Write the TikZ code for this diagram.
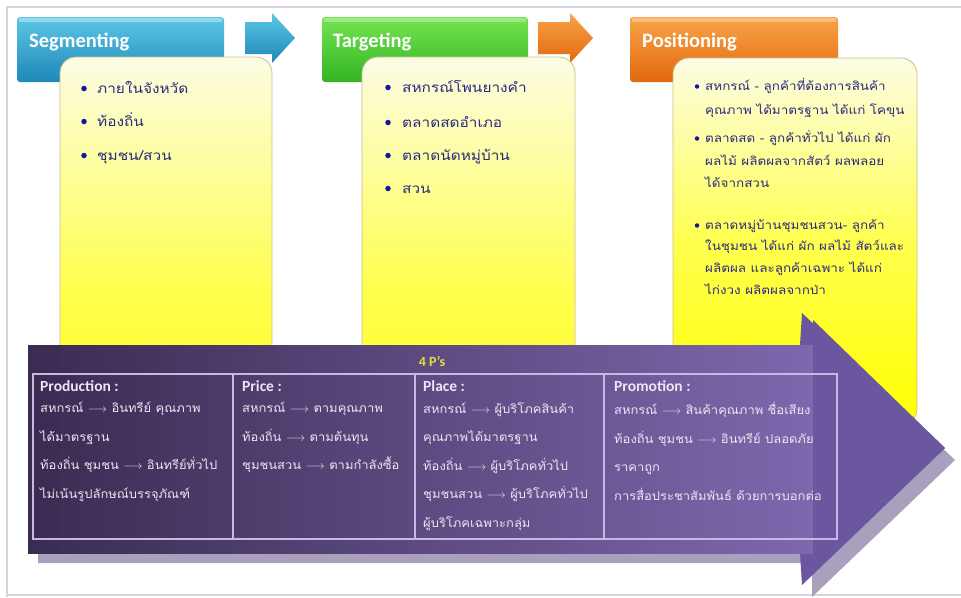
\documentclass[tikz,border=0pt]{standalone}
\usepackage{fontspec}
\setmainfont{Carlito}
\newfontfamily\thai[Script=Thai, FakeStretch=1.14]{Loma}
\newfontfamily\thait[Script=Thai, FakeStretch=1.08]{Loma}
\usetikzlibrary{calc}
\definecolor{framegray}{HTML}{D4D4E2}
\definecolor{segTop}{HTML}{5CC6E6}
\definecolor{segBot}{HTML}{1E88B8}
\definecolor{tarTop}{HTML}{74E450}
\definecolor{tarBot}{HTML}{34B424}
\definecolor{posTop}{HTML}{F8A448}
\definecolor{posBot}{HTML}{E2680E}
\definecolor{ylTop}{HTML}{FCFCE4}
\definecolor{ylMid}{HTML}{FFFF50}
\definecolor{ylBot}{HTML}{FFFF00}
\definecolor{ylEdge}{HTML}{C8C08C}
\definecolor{navy}{HTML}{2A2A7C}
\definecolor{bullet}{HTML}{1414A0}
\definecolor{purpleL}{HTML}{3A2C52}
\definecolor{purpleR}{HTML}{7E68AE}
\definecolor{purpleHead}{HTML}{6B57A0}
\definecolor{shadowP}{HTML}{A8A0BC}
\definecolor{tblLine}{HTML}{C8B8E4}
\definecolor{tblText}{HTML}{ECE6F4}
\definecolor{titleY}{HTML}{E4E040}
\tikzset{
  hdrtext/.style={anchor=west, text=white, font=\bfseries\fontsize{20.5}{22}\selectfont, inner sep=0pt},
  ybox/.style={draw=ylEdge, line width=0.8pt, rounded corners=16pt, top color=ylTop, bottom color=ylBot, middle color=ylMid},
  itemA/.style={anchor=west, text=navy, font=\thai\fontsize{13.5}{15}\selectfont, inner sep=0pt, text height=9pt, text depth=3pt},
  itemB/.style={anchor=west, text=navy, font=\thai\fontsize{11.8}{14}\selectfont, inner sep=0pt, text height=8pt, text depth=3pt},
  dot/.style={circle, fill=bullet, inner sep=0pt, minimum size=5.5pt},
  tblhead/.style={anchor=west, text=tblText, font=\bfseries\fontsize{15.5}{16}\selectfont, inner sep=0pt},
  tbltext/.style={anchor=north west, text=tblText, font=\thait\fontsize{12}{28.5}\selectfont, inner sep=0pt, align=left},
}
\begin{document}
\begin{tikzpicture}[x=1pt,y=-1pt]
\useasboundingbox (0,0) rectangle (961,597);
\fill[white] (0,0) rectangle (961,597);
\draw[framegray, line width=1.2pt] (7,597) -- (7,7) -- (961,7);
\draw[framegray, line width=1.2pt] (7,595) -- (961,595);

% headers
\shade[top color=segTop, bottom color=segBot, rounded corners=3pt] (17,17) rectangle (224,82);
\fill[white, opacity=0.35] (19,18) rectangle (222,22);
\node[hdrtext] (seg) at (29,42) {Segmenting};
\shade[top color=tarTop, bottom color=tarBot, rounded corners=3pt] (322,17) rectangle (528,82);
\fill[white, opacity=0.3] (324,18) rectangle (526,22);
\node[hdrtext] (tar) at (333,42) {Targeting};
\shade[top color=posTop, bottom color=posBot, rounded corners=3pt] (630,17) rectangle (838,82);
\fill[white, opacity=0.3] (632,18) rectangle (836,22);
\node[hdrtext] (pos) at (642,42) {Positioning};

% small arrows
\shade[top color=segTop, bottom color=segBot] (245,22) -- (272,22) -- (272,13) -- (295,38) -- (272,63) -- (272,54) -- (245,54) -- cycle;
\shade[top color=posTop, bottom color=posBot] (538,22) -- (570,22) -- (570,13) -- (593,38) -- (570,63) -- (570,54) -- (538,54) -- cycle;

% yellow boxes
\path[ybox] (60,57) rectangle (272,520);
\path[ybox] (362,57) rectangle (575,520);
\path[ybox] (673,58) rectangle (917,425);

% box 1 items
\node[dot] at (84,88.5) {}; \node[itemA] (s1) at (97,90) {ภายในจังหวัด};
\node[dot] at (84,121.5) {}; \node[itemA] (s2) at (97,123) {ท้องถิ่น};
\node[dot] at (84,155.5) {}; \node[itemA] (s3) at (97,157) {ชุมชน/สวน};
% box 2 items
\node[dot] at (388,87.5) {}; \node[itemA] (t1) at (402,89) {สหกรณ์โพนยางคำ};
\node[dot] at (388,122.5) {}; \node[itemA] (t2) at (402,124) {ตลาดสดอำเภอ};
\node[dot] at (388,155.5) {}; \node[itemA] (t3) at (402,157) {ตลาดนัดหมู่บ้าน};
\node[dot] at (388,188.5) {}; \node[itemA] (t4) at (402,190) {สวน};
% box 3 items
\node[dot, minimum size=4.5pt] at (697,86.5) {};
\node[itemB] (p1a) at (705,88) {สหกรณ์ - ลูกค้าที่ต้องการสินค้า};
\node[itemB] (p1b) at (705,112) {คุณภาพ ได้มาตรฐาน ได้แก่ โคขุน};
\node[dot, minimum size=4.5pt] at (697,138.5) {};
\node[itemB] (p2a) at (705,140) {ตลาดสด - ลูกค้าทั่วไป ได้แก่ ผัก};
\node[itemB] (p2b) at (705,163) {ผลไม้ ผลิตผลจากสัตว์ ผลพลอย};
\node[itemB] (p2c) at (705,185) {ได้จากสวน};
\node[dot, minimum size=4.5pt] at (697,225.5) {};
\node[itemB] (p3a) at (705,227) {ตลาดหมู่บ้านชุมชนสวน- ลูกค้า};
\node[itemB] (p3b) at (705,248) {ในชุมชน ได้แก่ ผัก ผลไม้ สัตว์และ};
\node[itemB] (p3c) at (705,270) {ผลิตผล และลูกค้าเฉพาะ ได้แก่};
\node[itemB] (p3d) at (705,292) {ไก่งวง ผลิตผลจากป่า};

% big purple arrow shadow
\fill[shadowP] (38,357) -- (812,357) -- (812,325) -- (955,460) -- (812,597) -- (812,563) -- (38,563) -- cycle;
% body + head
\fill[purpleHead] (800,345) -- (802,313) -- (945,448) -- (802,585) -- (800,553) -- cycle;
\shade[left color=purpleL, right color=purpleR] (28,345) rectangle (813,553);
\fill[purpleHead] (813,320) -- (945,448) -- (813,574) -- cycle;
\fill[purpleL, opacity=0.25] (28,345) rectangle (60,553);

\node[anchor=center, text=titleY, font=\bfseries\fontsize{14}{16}\selectfont, inner sep=0pt] (fourp) at (432,361) {4 P's};

% table
\draw[tblLine, line width=1.3pt] (33,374) rectangle (837,539);
\draw[tblLine, line width=1.3pt] (233,374) -- (233,539);
\draw[tblLine, line width=1.3pt] (415,374) -- (415,539);
\draw[tblLine, line width=1.3pt] (604,374) -- (604,539);

\node[tblhead] (h1) at (40,386) {Production :};
\node[tbltext] (c1) at (40,402) {สหกรณ์ $\longrightarrow$ อินทรีย์ คุณภาพ\\ได้มาตรฐาน\\ท้องถิ่น ชุมชน $\longrightarrow$ อินทรีย์ทั่วไป\\ไม่เน้นรูปลักษณ์บรรจุภัณฑ์};
\node[tblhead] (h2) at (242,386) {Price :};
\node[tbltext] (c2) at (242,402) {สหกรณ์ $\longrightarrow$ ตามคุณภาพ\\ท้องถิ่น $\longrightarrow$ ตามต้นทุน\\ชุมชนสวน $\longrightarrow$ ตามกำลังซื้อ};
\node[tblhead] (h3) at (423,386) {Place :};
\node[tbltext] (c3) at (423,402) {สหกรณ์ $\longrightarrow$ ผู้บริโภคสินค้า\\คุณภาพได้มาตรฐาน\\ท้องถิ่น $\longrightarrow$ ผู้บริโภคทั่วไป\\ชุมชนสวน $\longrightarrow$ ผู้บริโภคทั่วไป\\ผู้บริโภคเฉพาะกลุ่ม};
\node[tblhead] (h4) at (614,386) {Promotion :};
\node[tbltext] (c4) at (614,402) {สหกรณ์ $\longrightarrow$ สินค้าคุณภาพ ชื่อเสียง\\ท้องถิ่น ชุมชน $\longrightarrow$ อินทรีย์ ปลอดภัย\\ราคาถูก\\การสื่อประชาสัมพันธ์ ด้วยการบอกต่อ};
\end{tikzpicture}
\end{document}
